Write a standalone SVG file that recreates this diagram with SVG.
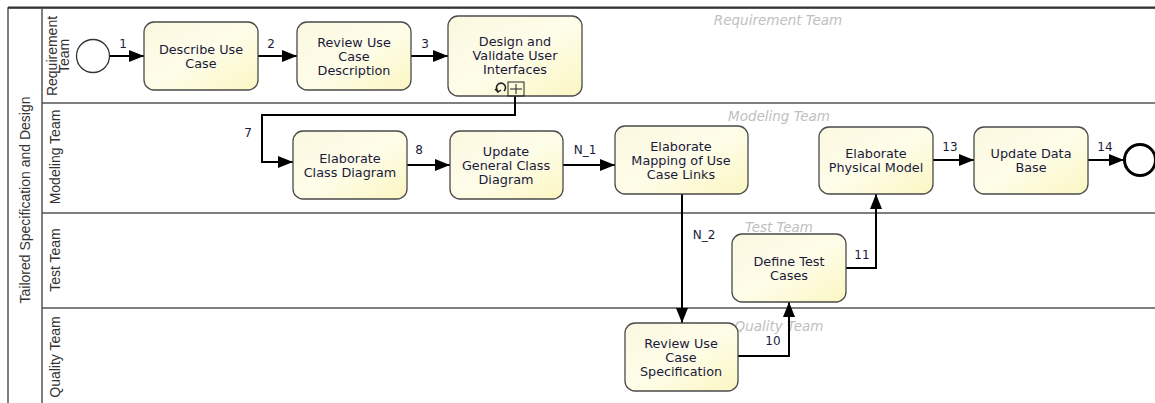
<svg xmlns="http://www.w3.org/2000/svg" width="1155" height="403" viewBox="0 0 1155 403">
<defs>
<linearGradient id="tg" x1="0" y1="0" x2="1" y2="1">
<stop offset="0" stop-color="#fbf8e0"/>
<stop offset="0.5" stop-color="#fefde9"/>
<stop offset="1" stop-color="#fbf6c2"/>
</linearGradient>
<marker id="ah" markerWidth="15" markerHeight="12" refX="15" refY="6" orient="auto" markerUnits="userSpaceOnUse">
<path d="M0,0 L15,6 L0,12 z" fill="#000"/>
</marker>
<style>
.task{fill:url(#tg);stroke:#4a4a4a;stroke-width:1.3}
.tt{font-family:"DejaVu Sans",Verdana,sans-serif;font-size:12.8px;fill:#1a1a3a;text-anchor:middle}
.lbl{font-family:"DejaVu Sans",Verdana,sans-serif;font-size:12px;fill:#1a1a3a;text-anchor:middle}
.lane{font-family:"Liberation Sans",Arial,sans-serif;font-size:14px;fill:#333;text-anchor:middle}
.wm{font-family:"DejaVu Sans",Verdana,sans-serif;font-size:13.5px;font-style:italic;fill:#c0c0c0;text-anchor:middle}
.edge{fill:none;stroke:#000;stroke-width:2;marker-end:url(#ah)}
.ln{stroke:#555;stroke-width:1.5;fill:none}
</style>
</defs>
<g id="pool">
<rect x="8" y="8" width="1160" height="420" fill="#fff" stroke="#555" stroke-width="1.5"/>
<line x1="8" y1="7.5" x2="1155" y2="7.5" stroke="#333" stroke-width="2"/>
<line class="ln" x1="42" y1="8" x2="42" y2="403"/>
<line class="ln" x1="42" y1="103" x2="1155" y2="103"/>
<line class="ln" x1="42" y1="213" x2="1155" y2="213"/>
<line class="ln" x1="42" y1="308" x2="1155" y2="308"/>
<text class="lane" transform="translate(30,200) rotate(-90)">Tailored Specification and Design</text>
<text class="lane" transform="translate(57,56) rotate(-90)">Requirement</text>
<text class="lane" transform="translate(69,56) rotate(-90)">Team</text>
<text class="lane" transform="translate(60,157) rotate(-90)">Modeling Team</text>
<text class="lane" transform="translate(60,260) rotate(-90)">Test Team</text>
<text class="lane" transform="translate(60,357) rotate(-90)">Quality Team</text>
<text class="wm" x="778" y="25">Requirement Team</text>
<text class="wm" x="779" y="121">Modeling Team</text>
<text class="wm" x="779" y="232">Test Team</text>
<text class="wm" x="779" y="331">Quality Team</text>
</g>
<g id="connectors">
<path class="edge" d="M110,56 L144,56"/>
<text class="lbl" x="123" y="48">1</text>
<path class="edge" d="M258,56 L297,56"/>
<text class="lbl" x="271" y="48">2</text>
<path class="edge" d="M411,56 L448,56"/>
<text class="lbl" x="425" y="48">3</text>
<path class="edge" d="M515,96 L515,115 L262,115 L262,162 L293,162"/>
<text class="lbl" x="248" y="137">7</text>
<path class="edge" d="M407,165 L450,165"/>
<text class="lbl" x="419" y="154">8</text>
<path class="edge" d="M563,165 L615,165"/>
<text class="lbl" x="585" y="154">N_1</text>
<path class="edge" d="M682,194 L682,323"/>
<text class="lbl" x="704" y="239">N_2</text>
<path class="edge" d="M738,356 L789,356 L789,302"/>
<text class="lbl" x="773" y="345">10</text>
<path class="edge" d="M846,268 L876,268 L876,194"/>
<text class="lbl" x="862" y="259">11</text>
<path class="edge" d="M933,160 L974,160"/>
<text class="lbl" x="950" y="151">13</text>
<path class="edge" d="M1088,160 L1124,160"/>
<text class="lbl" x="1105" y="151">14</text>
</g>
<g id="start"><circle cx="93" cy="56" r="16.5" fill="#fff" stroke="#333" stroke-width="1.3"/></g>
<g id="describe">
<rect class="task" x="144" y="22" width="114" height="68" rx="10"/>
<text class="tt" x="201" y="54">Describe Use</text>
<text class="tt" x="201" y="68">Case</text>
</g>
<g id="review">
<rect class="task" x="297" y="22" width="114" height="68" rx="10"/>
<text class="tt" x="354" y="47">Review Use</text>
<text class="tt" x="354" y="61">Case</text>
<text class="tt" x="354" y="75">Description</text>
</g>
<g id="design">
<rect class="task" x="448" y="16" width="134" height="80" rx="10"/>
<text class="tt" x="515" y="46">Design and</text>
<text class="tt" x="515" y="60">Validate User</text>
<text class="tt" x="515" y="74">Interfaces</text>
<rect x="508" y="82" width="16" height="14" fill="none" stroke="#222" stroke-width="1"/>
<path d="M516,84 V94 M510,89 H522" stroke="#222" stroke-width="1" fill="none"/>
<path d="M498,91 A4.5,4.5 0 1 1 504,91" fill="none" stroke="#222" stroke-width="1.6"/>
<path d="M495,89 L498,92 L501,90" fill="none" stroke="#222" stroke-width="1.4"/>
</g>
<g id="classdiag">
<rect class="task" x="293" y="131" width="114" height="68" rx="10"/>
<text class="tt" x="350" y="163">Elaborate</text>
<text class="tt" x="350" y="177">Class Diagram</text>
</g>
<g id="update">
<rect class="task" x="450" y="131" width="113" height="68" rx="10"/>
<text class="tt" x="506" y="156">Update</text>
<text class="tt" x="506" y="170">General Class</text>
<text class="tt" x="506" y="184">Diagram</text>
</g>
<g id="mapping">
<rect class="task" x="615" y="126" width="133" height="68" rx="10"/>
<text class="tt" x="681" y="151">Elaborate</text>
<text class="tt" x="681" y="165">Mapping of Use</text>
<text class="tt" x="681" y="179">Case Links</text>
</g>
<g id="physical">
<rect class="task" x="819" y="127" width="114" height="67" rx="10"/>
<text class="tt" x="876" y="158">Elaborate</text>
<text class="tt" x="876" y="172">Physical Model</text>
</g>
<g id="updatedb">
<rect class="task" x="974" y="127" width="114" height="67" rx="10"/>
<text class="tt" x="1031" y="158">Update Data</text>
<text class="tt" x="1031" y="172">Base</text>
</g>
<g id="end"><circle cx="1140" cy="160" r="15.5" fill="#fff" stroke="#000" stroke-width="3"/></g>
<g id="testcases">
<rect class="task" x="732" y="234" width="114" height="68" rx="10"/>
<text class="tt" x="789" y="266">Define Test</text>
<text class="tt" x="789" y="280">Cases</text>
</g>
<g id="spec">
<rect class="task" x="625" y="323" width="113" height="68" rx="10"/>
<text class="tt" x="681" y="348">Review Use</text>
<text class="tt" x="681" y="362">Case</text>
<text class="tt" x="681" y="376">Specification</text>
</g>
</svg>
